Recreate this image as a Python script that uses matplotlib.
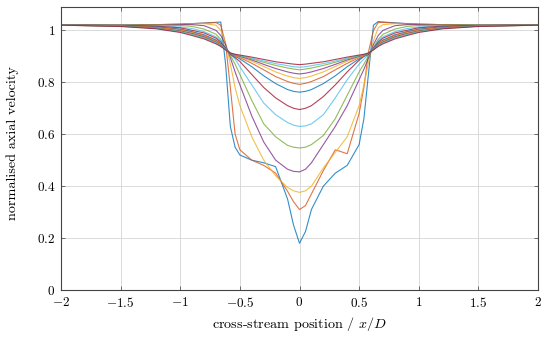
import matplotlib
matplotlib.use("Agg")
import matplotlib.pyplot as plt

plt.rcParams["mathtext.fontset"] = "cm"
plt.rcParams["font.family"] = ["cmr10", "DejaVu Serif"]
plt.rcParams["axes.unicode_minus"] = False

# cross-stream sample positions (x/D)
x_pos = [-2.0, -1.5, -1.2, -1.0, -0.9, -0.8, -0.7, -0.66, -0.62, -0.58,
         -0.54, -0.5, -0.4, -0.3, -0.2, -0.1, -0.05, 0.0, 0.05, 0.1,
         0.2, 0.3, 0.4, 0.5, 0.54,
         0.58, 0.62, 0.66, 0.7, 0.8, 0.9, 1.0, 1.2, 1.5, 2.0]

# normalised axial velocity profiles, one per downstream station
u_00 = [1.02, 1.021, 1.022, 1.024, 1.026, 1.028, 1.031, 1.032, 0.87, 0.63,
        0.55, 0.52, 0.50, 0.49, 0.475, 0.35, 0.25, 0.18, 0.225, 0.31,
        0.40, 0.45, 0.48, 0.56, 0.66,
        0.84, 1.02, 1.034, 1.032, 1.029, 1.026, 1.024, 1.022, 1.021, 1.02]
u_01 = [1.02, 1.021, 1.022, 1.024, 1.026, 1.028, 1.03, 1.02, 0.95, 0.78,
        0.60, 0.54, 0.50, 0.48, 0.45, 0.38, 0.34, 0.31, 0.325, 0.37,
        0.46, 0.54, 0.525, 0.68, 0.78,
        0.92, 1.0, 1.03, 1.031, 1.028, 1.026, 1.024, 1.022, 1.021, 1.02]
u_02 = [1.02, 1.021, 1.022, 1.023, 1.025, 1.026, 1.02, 1.0, 0.95, 0.87,
        0.78, 0.71, 0.59, 0.50, 0.44, 0.395, 0.382, 0.376, 0.382, 0.40,
        0.47, 0.53, 0.59, 0.71, 0.79,
        0.88, 0.96, 1.01, 1.022, 1.026, 1.024, 1.023, 1.022, 1.021, 1.02]
u_03 = [1.02, 1.02, 1.021, 1.022, 1.022, 1.018, 1.0, 0.98, 0.945, 0.895,
        0.84, 0.79, 0.67, 0.57, 0.50, 0.465, 0.457, 0.455, 0.465, 0.49,
        0.56, 0.63, 0.71, 0.81, 0.85,
        0.895, 0.945, 0.98, 1.0, 1.018, 1.022, 1.022, 1.021, 1.02, 1.02]
u_04 = [1.02, 1.02, 1.02, 1.019, 1.015, 1.005, 0.985, 0.965, 0.935, 0.903,
        0.87, 0.83, 0.73, 0.64, 0.59, 0.557, 0.55, 0.547, 0.55, 0.56,
        0.595, 0.66, 0.75, 0.84, 0.87,
        0.903, 0.935, 0.965, 0.985, 1.005, 1.015, 1.019, 1.02, 1.02, 1.02]
u_05 = [1.02, 1.02, 1.018, 1.013, 1.007, 0.995, 0.975, 0.96, 0.932, 0.906,
        0.89, 0.86, 0.79, 0.72, 0.675, 0.645, 0.635, 0.63, 0.632, 0.64,
        0.675, 0.74, 0.81, 0.87, 0.89,
        0.906, 0.932, 0.96, 0.975, 0.995, 1.007, 1.013, 1.018, 1.02, 1.02]
u_06 = [1.02, 1.019, 1.016, 1.01, 1.0, 0.99, 0.97, 0.955, 0.93, 0.908,
        0.895, 0.88, 0.83, 0.78, 0.74, 0.71, 0.70, 0.695, 0.70, 0.71,
        0.745, 0.79, 0.84, 0.885, 0.9,
        0.908, 0.93, 0.955, 0.97, 0.99, 1.0, 1.01, 1.016, 1.019, 1.02]
u_07 = [1.02, 1.018, 1.014, 1.005, 0.995, 0.983, 0.963, 0.95, 0.93, 0.91,
        0.9, 0.89, 0.86, 0.825, 0.795, 0.772, 0.765, 0.762, 0.765, 0.772,
        0.795, 0.825, 0.86, 0.89, 0.9,
        0.91, 0.93, 0.95, 0.963, 0.983, 0.995, 1.005, 1.014, 1.018, 1.02]
u_08 = [1.02, 1.018, 1.012, 1.003, 0.993, 0.98, 0.96, 0.948, 0.928, 0.911,
        0.902, 0.895, 0.873, 0.848, 0.822, 0.803, 0.796, 0.792, 0.796, 0.803,
        0.822, 0.848, 0.873, 0.895, 0.902,
        0.911, 0.928, 0.948, 0.96, 0.98, 0.993, 1.003, 1.012, 1.018, 1.02]
u_09 = [1.02, 1.017, 1.01, 1.0, 0.99, 0.977, 0.957, 0.945, 0.928, 0.912,
        0.903, 0.897, 0.881, 0.861, 0.840, 0.824, 0.818, 0.815, 0.818, 0.824,
        0.840, 0.861, 0.881, 0.897, 0.903,
        0.912, 0.928, 0.945, 0.957, 0.977, 0.99, 1.0, 1.01, 1.017, 1.02]
u_10 = [1.02, 1.017, 1.009, 0.998, 0.988, 0.975, 0.955, 0.943, 0.927, 0.912,
        0.905, 0.9, 0.886, 0.869, 0.853, 0.840, 0.835, 0.832, 0.835, 0.840,
        0.853, 0.869, 0.886, 0.9, 0.905,
        0.912, 0.927, 0.943, 0.955, 0.975, 0.988, 0.998, 1.009, 1.017, 1.02]
u_11 = [1.02, 1.016, 1.008, 0.996, 0.985, 0.972, 0.953, 0.941, 0.926, 0.912,
        0.906, 0.902, 0.89, 0.877, 0.865, 0.855, 0.851, 0.848, 0.851, 0.855,
        0.865, 0.877, 0.89, 0.902, 0.906,
        0.912, 0.926, 0.941, 0.953, 0.972, 0.985, 0.996, 1.008, 1.016, 1.02]
u_12 = [1.02, 1.016, 1.007, 0.994, 0.983, 0.97, 0.951, 0.94, 0.926, 0.913,
        0.907, 0.903, 0.893, 0.882, 0.872, 0.864, 0.86, 0.858, 0.86, 0.864,
        0.872, 0.882, 0.893, 0.903, 0.907,
        0.913, 0.926, 0.94, 0.951, 0.97, 0.983, 0.994, 1.007, 1.016, 1.02]
u_13 = [1.02, 1.015, 1.006, 0.992, 0.98, 0.967, 0.948, 0.938, 0.925, 0.913,
        0.908, 0.905, 0.897, 0.888, 0.879, 0.873, 0.87, 0.868, 0.87, 0.873,
        0.879, 0.888, 0.897, 0.905, 0.908,
        0.913, 0.925, 0.938, 0.948, 0.967, 0.98, 0.992, 1.006, 1.015, 1.02]

profiles = [u_00, u_01, u_02, u_03, u_04, u_05, u_06,
            u_07, u_08, u_09, u_10, u_11, u_12, u_13]

palette = ["#0072BD", "#D95319", "#EDB120", "#7E2F8E",
           "#77AC30", "#4DBEEE", "#A2142F"]

x_ticks = [-2, -1.5, -1, -0.5, 0, 0.5, 1, 1.5, 2]
y_ticks = [0, 0.2, 0.4, 0.6, 0.8, 1]

fig = plt.figure(figsize=(5.42, 3.40), dpi=100)
ax = fig.add_axes([61 / 542, 50 / 340, 477 / 542, 283 / 340])

for i, u in enumerate(profiles):
    ax.plot(x_pos, u, color=palette[i % len(palette)], lw=0.8, alpha=0.8,
            solid_joinstyle="round")

ax.set_xlim(-2, 2)
ax.set_ylim(0, 1.09)
ax.set_xticks(x_ticks)
ax.set_yticks(y_ticks)
ax.set_xticklabels([f"${v:g}$" for v in x_ticks])
ax.set_yticklabels([f"${v:g}$" for v in y_ticks])
ax.grid(True, color="#d4d4d4", lw=0.6)
ax.set_axisbelow(True)
ax.tick_params(direction="in", length=3, width=0.6, color="#555555",
               top=True, right=True, labelsize=9.5)
ax.tick_params(axis="x", pad=4)
ax.tick_params(axis="y", pad=4)
for s in ax.spines.values():
    s.set_color("#444444")
    s.set_linewidth(0.8)

ax.set_xlabel(r"cross-stream position / $x/D$", fontsize=10.2)
ax.set_ylabel("normalised axial velocity", fontsize=10.2)
ax.xaxis.set_label_coords(0.5, -0.09)
ax.yaxis.set_label_coords(-0.088, 0.52)

fig.savefig("out.png", dpi=100)
